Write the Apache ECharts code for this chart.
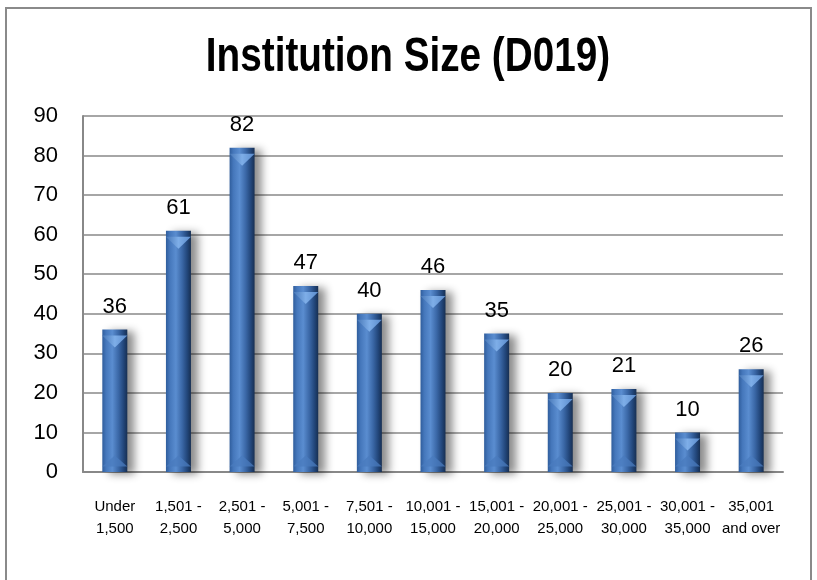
<!DOCTYPE html>
<html><head><meta charset="utf-8">
<script src="https://cdn.jsdelivr.net/npm/echarts@6/dist/echarts.min.js"></script>
<style>html,body{margin:0;padding:0;background:#fff}#c{width:817px;height:580px}</style>
</head><body><div id="c"></div>
<script>
var titleText = 'Institution Size (D019)';
var categories = ["Under\n1,500","1,501 -\n2,500","2,501 -\n5,000","5,001 -\n7,500","7,501 -\n10,000","10,001 -\n15,000","15,001 -\n20,000","20,001 -\n25,000","25,001 -\n30,000","30,001 -\n35,000","35,001\nand over"];
var values = [36,61,82,47,40,46,35,20,21,10,26];
var yTicks = [0,10,20,30,40,50,60,70,80,90];

var font = '"Liberation Sans",Arial,sans-serif';
var chart = echarts.init(document.getElementById('c'));
chart.setOption({
  animation:false,
  graphic:[
    {type:'rect',shape:{x:6,y:8,width:805,height:580},style:{fill:'none',stroke:'#8a8a8a',lineWidth:2},z:-1},
    {type:'text',x:408,y:57,scaleX:0.79,scaleY:1,
      style:{text:titleText,fontFamily:font,fontSize:49,fontWeight:'bold',fill:'#000',textAlign:'center',textVerticalAlign:'middle'}}
  ],
  grid:{left:83,right:34,top:116,bottom:108},
  xAxis:{type:'category',data:categories,axisTick:{show:false},
    axisLine:{lineStyle:{color:'#888',width:2}},
    axisLabel:{interval:0,fontFamily:font,fontSize:15,color:'#000',lineHeight:22,margin:24}},
  yAxis:{type:'value',min:0,max:90,interval:10,
    axisLine:{show:true,lineStyle:{color:'#888',width:2}},axisTick:{show:false},
    splitLine:{lineStyle:{color:'#888',width:1.5}},
    axisLabel:{fontFamily:font,fontSize:22,color:'#000',margin:25,
      formatter:function(v){return yTicks.indexOf(v)>=0?String(v):'';}}},
  series:[{
    type:'bar',data:values,barWidth:25,
    itemStyle:{
      color:new echarts.graphic.LinearGradient(0,0,1,0,[
        {offset:0,color:'#2f5d9c'},{offset:0.15,color:'#4577bb'},{offset:0.4,color:'#5a8dd0'},
        {offset:0.65,color:'#3a67a6'},{offset:0.85,color:'#22467a'},{offset:1,color:'#172f52'}]),
      shadowColor:'rgba(0,0,0,0.45)',shadowBlur:9,shadowOffsetX:7,shadowOffsetY:2
    },
    label:{show:true,position:'top',distance:12,fontFamily:font,fontSize:22,color:'#000'}
  },{
    type:'pictorialBar',data:values,symbol:'triangle',symbolRotate:180,symbolSize:[25,12],
    symbolPosition:'end',symbolOffset:[0,'50%'],z:3,
    itemStyle:{color:new echarts.graphic.LinearGradient(0,0,1,0,[
      {offset:0,color:'#5a8bcc'},{offset:0.5,color:'#7eaee8'},{offset:1,color:'#4676b6'}])},
    silent:true
  },{
    type:'pictorialBar',data:values.map(function(v){return 0.0001;}),symbol:'triangle',symbolSize:[25,11],
    symbolPosition:'start',symbolOffset:[0,'-50%'],z:3,
    itemStyle:{color:'#4a7bbd',opacity:0.75},silent:true
  }]
});
</script></body></html>
